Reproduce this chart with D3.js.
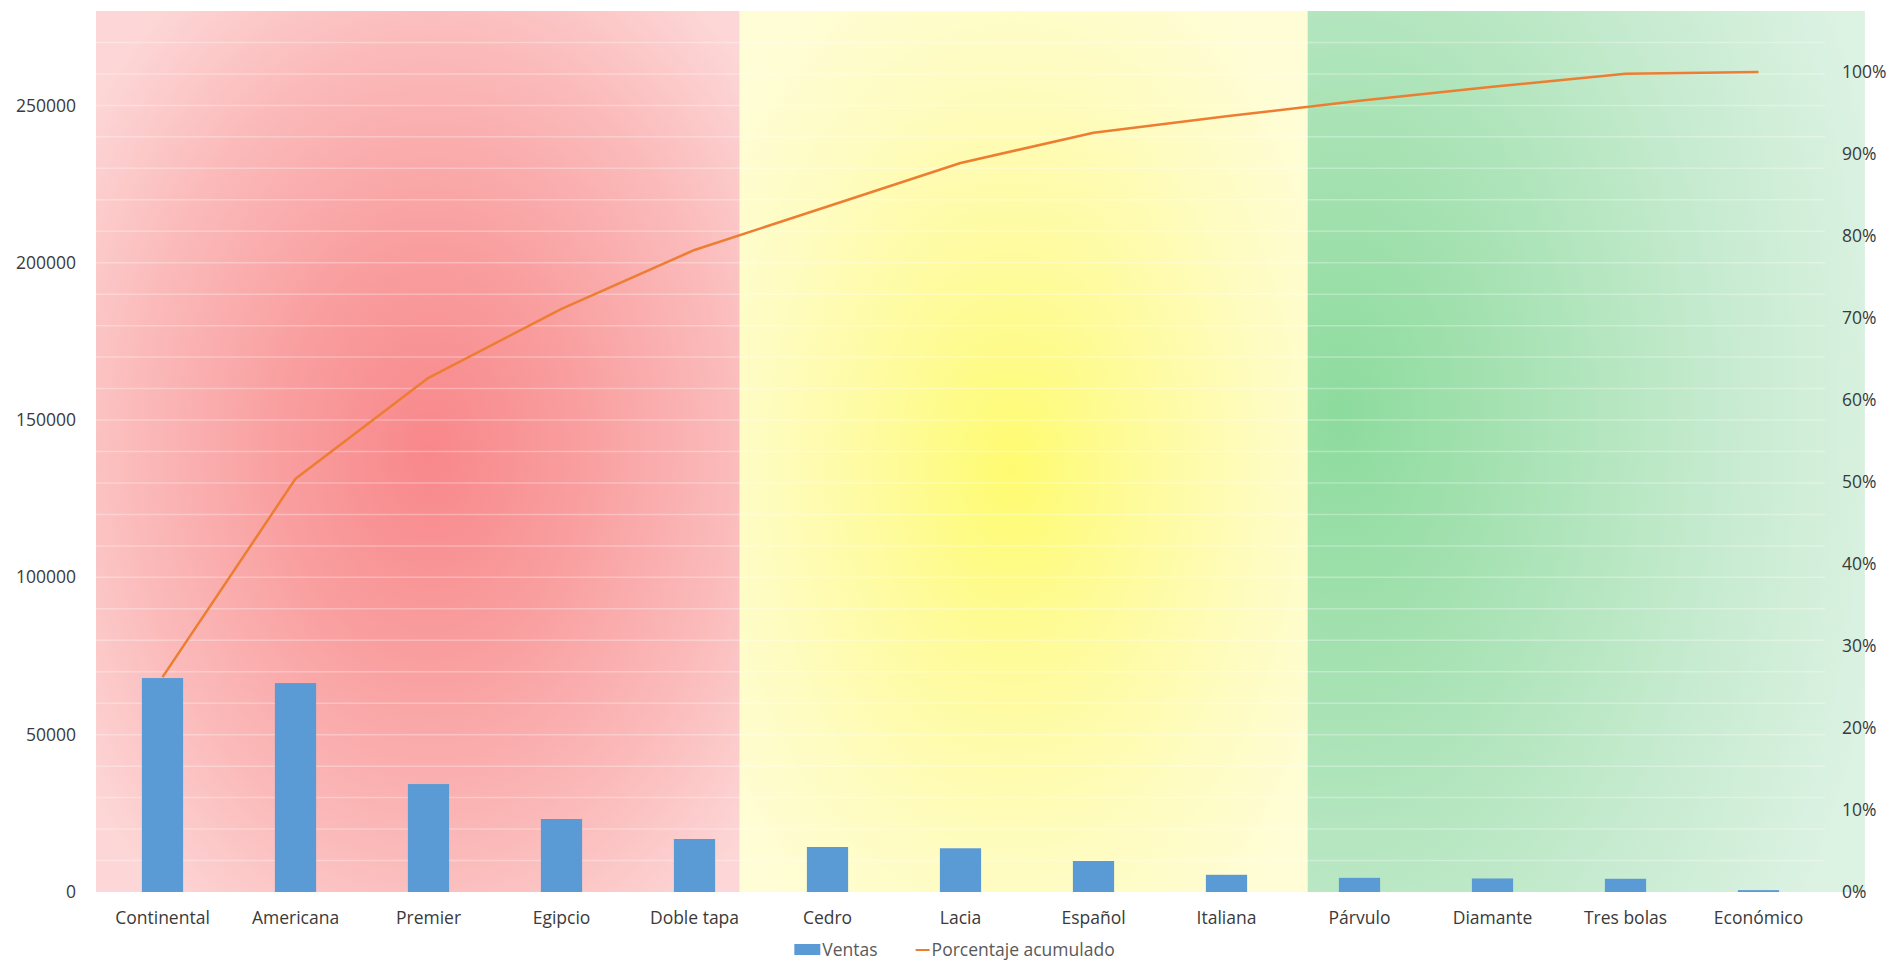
<!DOCTYPE html>
<html>
<head>
<meta charset="utf-8">
<script src="https://cdn.jsdelivr.net/npm/d3@7"></script>
<style>
  html, body { margin: 0; padding: 0; background: #fff; }
  svg { display: block; }
  .tick-label { font-family: "Open Sans", sans-serif; font-size: 17.5px; fill: #3a3a3a; }
  .legend-label { font-family: "Open Sans", sans-serif; font-size: 17.5px; fill: #595959; }
</style>
</head>
<body>
<svg id="chart"></svg>
<script>
// ---- data ----
const categories = ['Continental', 'Americana', 'Premier', 'Egipcio', 'Doble tapa', 'Cedro',
  'Lacia', 'Español', 'Italiana', 'Párvulo', 'Diamante', 'Tres bolas', 'Económico'];
const ventas     = [68000, 66400, 34300, 23200, 16850, 14300, 13900, 9850, 5470, 4500, 4300, 4200, 600];
const acumulado  = [0.262, 0.504, 0.627, 0.711, 0.783, 0.836, 0.889, 0.926, 0.946, 0.965, 0.982, 0.998, 1.0];
const leftTicks  = [0, 50000, 100000, 150000, 200000, 250000];
const rightTicks = [0, 0.1, 0.2, 0.3, 0.4, 0.5, 0.6, 0.7, 0.8, 0.9, 1.0];
const gridTicks  = d3.range(10000, 280000, 10000);
const legendItems = ['Ventas', 'Porcentaje acumulado'];

// background zones, edges given in category-band units
const zones = [
  { id: 'red',    from: 0,    to: 4.84,  cx: 0.52, cy: 0.50, r: 0.66,
    stops: ['#f8878a', '#f99e9f', '#fbbaba', '#fdd7d7'] },
  { id: 'yellow', from: 4.84, to: 9.11,  cx: 0.48, cy: 0.52, r: 0.64,
    stops: ['#fffb70', '#fefb9c', '#fefcc0', '#fffdd6'] },
  { id: 'green',  from: 9.11, to: 13.3,  cx: 0.06, cy: 0.46, r: 1.0,
    stops: ['#8ddb9d', '#aae3b6', '#c7ebd0', '#dcf2e3'] },
];

const W = 1890, H = 961;
const plot = { left: 96, right: 1825, top: 11, bottom: 892 };

const svg = d3.select('#chart').attr('width', W).attr('height', H);

const x = d3.scaleBand().domain(categories).range([plot.left, plot.right]).padding(0);
const bandUnits = d3.scaleLinear().domain([0, categories.length]).range([plot.left, plot.right]);
const yLeft  = d3.scaleLinear().domain([0, 280000]).range([plot.bottom, plot.top]);
const yRight = d3.scaleLinear().domain([0, 1]).range([plot.bottom, 72]);

// ---- background gradients ----
const defs = svg.append('defs');
zones.forEach(z => {
  const g = defs.append('radialGradient')
    .attr('id', `bg-${z.id}`)
    .attr('cx', z.cx).attr('cy', z.cy).attr('r', z.r)
    .attr('fx', z.cx).attr('fy', z.cy);
  const offs = [0, 0.35, 0.7, 1];
  z.stops.forEach((c, i) => g.append('stop').attr('offset', offs[i]).attr('stop-color', c));
});

svg.append('g').attr('class', 'zones')
  .selectAll('rect')
  .data(zones)
  .join('rect')
    .attr('x', d => bandUnits(d.from))
    .attr('y', plot.top)
    .attr('width', d => bandUnits(d.to) - bandUnits(d.from))
    .attr('height', plot.bottom - plot.top)
    .attr('fill', d => `url(#bg-${d.id})`);

// faint white gridlines
svg.append('g').attr('class', 'grid')
  .selectAll('line')
  .data(gridTicks)
  .join('line')
    .attr('x1', plot.left).attr('x2', plot.right)
    .attr('y1', d => yLeft(d)).attr('y2', d => yLeft(d))
    .attr('stroke', 'rgba(255,255,255,0.3)')
    .attr('stroke-width', 1.5);

// ---- bars ----
const barW = x.bandwidth() * 0.31;
svg.append('g').attr('class', 'bars')
  .selectAll('rect')
  .data(categories.map((c, i) => ({ c, v: ventas[i] })))
  .join('rect')
    .attr('x', d => x(d.c) + (x.bandwidth() - barW) / 2)
    .attr('y', d => yLeft(d.v))
    .attr('width', barW)
    .attr('height', d => yLeft(0) - yLeft(d.v))
    .attr('fill', '#5b9bd5');

// ---- cumulative line ----
const line = d3.line()
  .x((d, i) => x(categories[i]) + x.bandwidth() / 2)
  .y(d => yRight(d));

svg.append('path')
  .datum(acumulado)
  .attr('d', line)
  .attr('fill', 'none')
  .attr('stroke', '#ed7d31')
  .attr('stroke-width', 2.5)
  .attr('stroke-linejoin', 'round');

// ---- axes ----
const leftAxis = svg.append('g')
  .attr('transform', `translate(${plot.left},0)`)
  .call(d3.axisLeft(yLeft).tickValues(leftTicks).tickSize(0).tickPadding(20).tickFormat(d3.format('d')));

const rightAxis = svg.append('g')
  .attr('transform', `translate(${plot.right},0)`)
  .call(d3.axisRight(yRight).tickValues(rightTicks).tickSize(0).tickPadding(17).tickFormat(d3.format('.0%')));

const bottomAxis = svg.append('g')
  .attr('transform', `translate(0,${plot.bottom})`)
  .call(d3.axisBottom(x).tickSize(0).tickPadding(20));

[leftAxis, rightAxis, bottomAxis].forEach(a => {
  a.select('.domain').remove();
  a.selectAll('text').attr('class', 'tick-label').attr('font-family', null).attr('font-size', null).attr('fill', null);
  a.attr('font-family', null).attr('font-size', null);
});

// ---- legend ----
const legend = svg.append('g').attr('class', 'legend');
const legY = 950;
const items = legend.selectAll('g')
  .data(legendItems)
  .join('g');

items.append('text')
  .attr('class', 'legend-label')
  .attr('dy', '0.35em')
  .text(d => d);

items.each(function (d, i) {
  const g = d3.select(this);
  if (i === 0) {
    g.insert('rect', 'text').attr('x', 0).attr('y', -6).attr('width', 26).attr('height', 11).attr('fill', '#5b9bd5');
    g.select('text').attr('x', 28);
  } else {
    g.insert('line', 'text').attr('x1', 0).attr('x2', 14).attr('y1', 0).attr('y2', 0)
      .attr('stroke', '#ed7d31').attr('stroke-width', 2);
    g.select('text').attr('x', 16);
  }
});

// lay out legend items side by side, centred under the plot
let offset = 0;
const widths = [];
items.each(function () { widths.push(this.getBBox().width); });
const gap = 38;
const total = d3.sum(widths) + gap * (widths.length - 1);
const start = (plot.left + plot.right) / 2 - total / 2 - 6;
items.attr('transform', (d, i) => {
  const tx = start + offset;
  offset += widths[i] + gap;
  return `translate(${tx},${legY})`;
});
</script>
</body>
</html>
